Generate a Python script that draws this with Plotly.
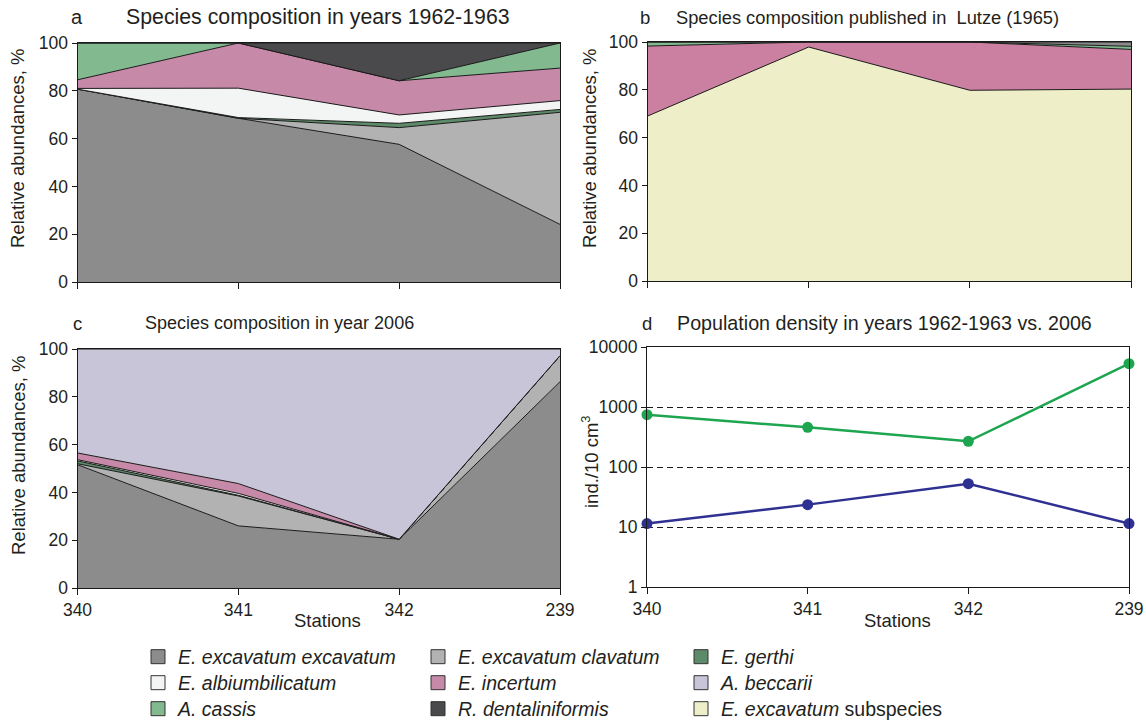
import plotly.graph_objects as go

W, H = 1146, 720
OFF = 0
FONT = "Liberation Sans, Arial, sans-serif"
TXT = "#231f20"

stations = ["340", "341", "342", "239"]

# Panel a: species composition 1962-1963 (%)
a_excavatum = [80.7, 68.5, 57.6, 24.1]
a_clavatum = [0.0, 0.0, 7.0, 46.9]
a_gerthi = [0.0, 0.3, 1.8, 1.2]
a_albiumbilicatum = [0.3, 12.3, 3.5, 3.7]
a_incertum = [3.6, 18.9, 14.3, 13.6]
a_cassis = [15.4, 0.0, 0.0, 10.5]
a_dentaliniformis = [0.0, 0.0, 15.8, 0.0]

# Panel b: Lutze (1965) (%)
b_subspecies = [69.0, 97.9, 79.8, 80.3]
b_incertum = [29.3, 2.1, 20.2, 16.6]
b_cassis = [1.7, 0.0, 0.0, 1.3]
b_other = [0.0, 0.0, 0.0, 1.8]

# Panel c: species composition 2006 (%)
c_excavatum = [51.6, 26.0, 20.4, 86.3]
c_clavatum = [0.4, 12.5, 0.0, 10.9]
c_gerthi = [1.2, 0.3, 0.0, 0.0]
c_albiumbilicatum = [0.5, 0.8, 0.0, 0.0]
c_incertum = [2.8, 4.1, 0.0, 0.0]
c_beccarii = [43.5, 56.3, 79.6, 2.8]

# Panel d: population density (ind./10 cm3)
d_1962 = [745, 458, 268, 5275]
d_2006 = [11.4, 23.6, 52.7, 11.4]

COL = {
    "excavatum": "#8c8c8c",
    "clavatum": "#b2b2b2",
    "gerthi": "#5d8a68",
    "albiumbilicatum": "#f3f5f4",
    "incertum": "#c68aa8",
    "beccarii": "#c9c5d8",
    "cassis": "#82b98f",
    "dentaliniformis": "#4a4a4c",
    "subspecies": "#eeeec8",
}

def fx(x):
    return (x - OFF) / W

def fy(y):
    return 1 - (y - OFF) / H

def dom_x(x0, x1):
    return [fx(x0), fx(x1)]

def dom_y(y0, y1):
    return [fy(y1), fy(y0)]

fig = go.Figure()

def area(xax, yax, grp, vals, color, name):
    fig.add_trace(go.Scatter(
        x=stations, y=vals, xaxis=xax, yaxis=yax, stackgroup=grp,
        mode="lines", line=dict(color="#1a1a1a", width=1),
        fillcolor=color, name=name, showlegend=False, hoverinfo="name+y"))

# panel a
for vals, key, nm in [(a_excavatum, "excavatum", "E. excavatum excavatum"),
                      (a_clavatum, "clavatum", "E. excavatum clavatum"),
                      (a_gerthi, "gerthi", "E. gerthi"),
                      (a_albiumbilicatum, "albiumbilicatum", "E. albiumbilicatum"),
                      (a_incertum, "incertum", "E. incertum"),
                      (a_cassis, "cassis", "A. cassis"),
                      (a_dentaliniformis, "dentaliniformis", "R. dentaliniformis")]:
    area("x", "y", "a", vals, COL[key], nm)

# panel b
for vals, color, nm in [(b_subspecies, COL["subspecies"], "E. excavatum subspecies"),
                        (b_incertum, "#cc80a1", "E. incertum"),
                        (b_cassis, COL["cassis"], "A. cassis"),
                        (b_other, "#8a8a8a", "other")]:
    area("x2", "y2", "b", vals, color, nm)

# panel c
for vals, key, nm in [(c_excavatum, "excavatum", "E. excavatum excavatum"),
                      (c_clavatum, "clavatum", "E. excavatum clavatum"),
                      (c_gerthi, "gerthi", "E. gerthi"),
                      (c_albiumbilicatum, "albiumbilicatum", "E. albiumbilicatum"),
                      (c_incertum, "incertum", "E. incertum"),
                      (c_beccarii, "beccarii", "A. beccarii")]:
    area("x3", "y3", "c", vals, COL[key], nm)

# panel d
fig.add_trace(go.Scatter(x=stations, y=d_1962, xaxis="x4", yaxis="y4", mode="lines+markers",
                         line=dict(color="#1ea54f", width=2.5), marker=dict(size=11, color="#1ea54f"),
                         name="1962-1963", showlegend=False, cliponaxis=False))
fig.add_trace(go.Scatter(x=stations, y=d_2006, xaxis="x4", yaxis="y4", mode="lines+markers",
                         line=dict(color="#2e3192", width=2.5), marker=dict(size=11, color="#2e3192"),
                         name="2006", showlegend=False, cliponaxis=False))

# legend entries: one small legend per entry (3 columns x 3 rows)
legend_names = ["<i>E. excavatum excavatum</i>", "<i>E. excavatum clavatum</i>", "<i>E. gerthi</i>",
                "<i>E. albiumbilicatum</i>", "<i>E. incertum</i>", "<i>A. beccarii</i>",
                "<i>A. cassis</i>", "<i>R. dentaliniformis</i>", "<i>E. excavatum</i> subspecies"]
legend_colors = [COL["excavatum"], COL["clavatum"], COL["gerthi"],
                 COL["albiumbilicatum"], COL["incertum"], COL["beccarii"],
                 COL["cassis"], COL["dentaliniformis"], COL["subspecies"]]
col_text_x = [179, 459, 722]
row_y = [657, 683, 709]

LEG_FONT = dict(size=19.5, color=TXT, family=FONT)
legend_layout = {}
for i, (nm, color) in enumerate(zip(legend_names, legend_colors)):
    key = "legend" if i == 0 else "legend%d" % (i + 1)
    r, c = divmod(i, 3)
    fig.add_trace(go.Scatter(x=[None], y=[None], mode="markers", name=nm, legend=key,
                             marker=dict(symbol="square", size=14, color=color,
                                         line=dict(color="#333333", width=1))))
    legend_layout[key] = dict(x=fx(col_text_x[c] - 41), y=fy(row_y[r]), xanchor="left",
                              yanchor="middle", font=LEG_FONT, bgcolor="rgba(0,0,0,0)",
                              borderwidth=0)

axis_common = dict(showline=True, linecolor="#1a1a1a", linewidth=1, mirror=True,
                   ticks="outside", ticklen=5, tickcolor="#1a1a1a", showgrid=False,
                   zeroline=False, tickfont=dict(size=17.5, color=TXT, family=FONT))

xa = dict(axis_common, type="category", range=[0, 3], ticklen=6)
ya = dict(axis_common, range=[0, 100], dtick=20)

fig.update_layout(
    width=W, height=H, margin=dict(l=0, r=0, t=0, b=0, autoexpand=False),
    paper_bgcolor="white", plot_bgcolor="white",
    font=dict(family=FONT, color=TXT, size=17),
    xaxis=dict(xa, domain=dom_x(77.5, 560), anchor="y", showticklabels=False),
    yaxis=dict(ya, domain=dom_y(43, 282), anchor="x"),
    xaxis2=dict(xa, domain=dom_x(647.5, 1131), anchor="y2", showticklabels=False),
    yaxis2=dict(ya, domain=dom_y(42, 281), anchor="x2"),
    xaxis3=dict(xa, domain=dom_x(77.5, 560), anchor="y3"),
    yaxis3=dict(ya, domain=dom_y(349, 588), anchor="x3"),
    xaxis4=dict(xa, domain=dom_x(647, 1129), anchor="y4"),
    yaxis4=dict(axis_common, type="log", range=[0, 4], domain=dom_y(347, 587), anchor="x4",
                tickvals=[1, 10, 100, 1000, 10000], ticktext=["1", "10", "100", "1000", "10000"],
                showgrid=True, gridcolor="#1a1a1a", gridwidth=1, griddash="6px,4px"),
    **legend_layout,
)

ann = []
def txt(x, y, s, anchor="left", angle=0, size=17):
    ann.append(dict(x=fx(x), y=fy(y), xref="paper", yref="paper", text=s, showarrow=False,
                    xanchor=anchor, yanchor="middle", textangle=angle,
                    font=dict(size=size, color=TXT, family=FONT)))

txt(77, 17, "a", "center", size=20)
txt(124, 17, "Species composition in years 1962-1963", size=21.3)
txt(645, 17, "b", "center", size=18.5)
txt(674, 17, "Species composition published in  Lutze (1965)", size=18.3)
txt(77, 323, "c", "center", size=18.5)
txt(143, 323, "Species composition in year 2006", size=18)
txt(647, 323, "d", "center", size=18.5)
txt(675, 323, "Population density in years 1962-1963 vs. 2006", size=19.7)
txt(18, 148, "Relative abundances, %", "center", -90, size=18.5)
txt(590, 148, "Relative abundances, %", "center", -90, size=18.5)
txt(18, 455, "Relative abundances, %", "center", -90, size=18.5)
txt(590, 462, "ind./10 cm<sup>3</sup>", "center", -90, size=18.5)
txt(327, 620, "Stations", "center", size=18.5)
txt(897, 620, "Stations", "center", size=18.5)
fig.update_layout(annotations=ann)

fig.write_html("out.html", config={"displayModeBar": False},
               post_script="document.body.style.margin='0';document.body.style.overflow='hidden';")
